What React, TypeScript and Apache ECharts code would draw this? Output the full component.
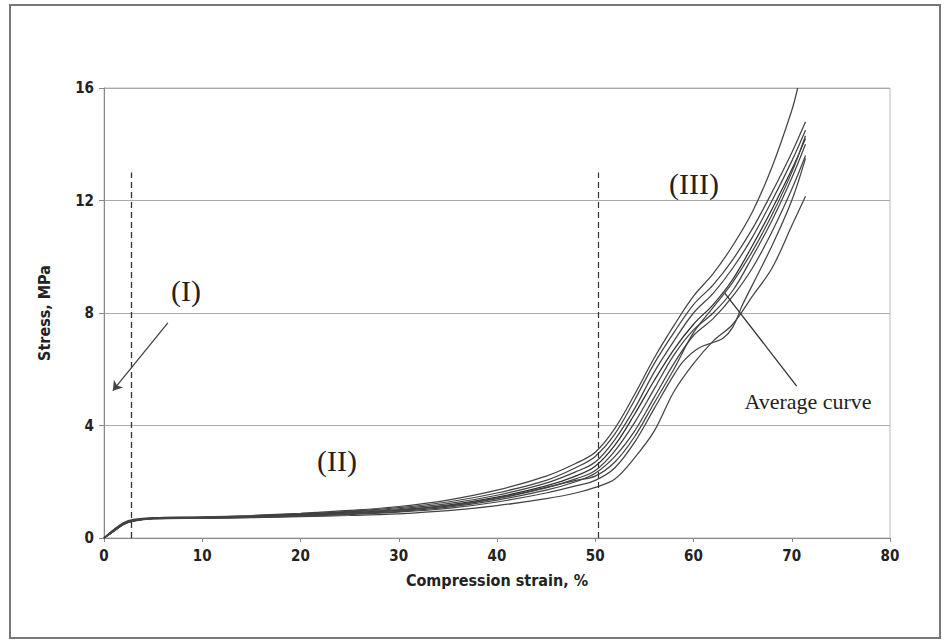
import React, { useEffect, useRef } from "react";
import * as echarts from "echarts";

// Strain grid (%) shared by most specimen curves
const strainGrid = [0, 1, 2, 3, 5, 10, 15, 20, 25, 30, 35, 40, 45, 48, 50, 52, 54, 56, 58, 60, 62, 64, 66, 68, 70, 71.4];

// Stress (MPa) for each specimen
const curveA_strain = [0, 1, 2, 3, 5, 10, 15, 20, 25, 30, 35, 40, 45, 48, 50, 52, 54, 56, 58, 60, 62, 64, 66, 68, 70, 70.6];
const curveA = [0, 0.28, 0.52, 0.64, 0.72, 0.75, 0.8, 0.88, 0.98, 1.12, 1.35, 1.7, 2.2, 2.65, 3.05, 3.9, 5.1, 6.4, 7.55, 8.6, 9.4, 10.4, 11.6, 13.2, 15.2, 16];
const curveB1 = [0, 0.3, 0.55, 0.66, 0.72, 0.74, 0.79, 0.86, 0.95, 1.08, 1.28, 1.6, 2.05, 2.5, 2.9, 3.7, 4.9, 6.2, 7.3, 8.3, 9.0, 9.9, 11.0, 12.3, 13.7, 14.8];
const curveB2 = [0, 0.27, 0.53, 0.64, 0.71, 0.73, 0.77, 0.84, 0.93, 1.04, 1.22, 1.52, 1.95, 2.35, 2.7, 3.5, 4.6, 5.9, 7.0, 8.0, 8.7, 9.6, 10.7, 12.0, 13.4, 14.5];
const curveAvg = [0, 0.26, 0.5, 0.63, 0.7, 0.72, 0.76, 0.82, 0.9, 1.0, 1.17, 1.45, 1.85, 2.2, 2.55, 3.3, 4.4, 5.6, 6.7, 7.6, 8.3, 9.2, 10.4, 11.7, 13.1, 14.2];
const curveB4 = [0, 0.25, 0.5, 0.62, 0.7, 0.72, 0.75, 0.8, 0.88, 0.98, 1.13, 1.4, 1.78, 2.1, 2.4, 3.1, 4.1, 5.3, 6.5, 7.4, 8.0, 8.8, 10.0, 11.3, 12.8, 14.0];
const curveB5 = [0, 0.24, 0.48, 0.61, 0.69, 0.71, 0.74, 0.79, 0.86, 0.95, 1.1, 1.35, 1.7, 2.0, 2.3, 2.9, 3.8, 5.0, 6.2, 7.2, 7.8, 8.6, 9.6, 10.9, 12.4, 13.6];
const curveB6 = [0, 0.26, 0.5, 0.62, 0.7, 0.72, 0.76, 0.81, 0.89, 0.99, 1.15, 1.42, 1.8, 2.05, 2.2, 2.7, 3.6, 4.8, 6.0, 7.3, 8.2, 9.1, 10.2, 11.5, 13.0, 14.3];
const curveK_strain = [0, 1, 2, 3, 5, 10, 15, 20, 25, 30, 35, 40, 45, 48, 50, 52, 54, 56, 58, 59, 60.5, 62, 63, 64, 65, 66, 68, 70, 71.4];
const curveK = [0, 0.25, 0.49, 0.61, 0.69, 0.71, 0.73, 0.78, 0.84, 0.92, 1.05, 1.28, 1.6, 1.85, 2.05, 2.5, 3.4, 4.6, 5.8, 6.3, 6.75, 6.95, 7.1, 7.5, 8.3, 9.0, 10.4, 12.0, 13.5];
const curveL = [0, 0.24, 0.48, 0.6, 0.68, 0.7, 0.72, 0.76, 0.8, 0.86, 0.97, 1.15, 1.4, 1.6, 1.8, 2.1, 2.85, 3.8, 5.2, 6.2, 7.0, 7.6, 8.6, 9.6, 11.1, 12.15];

const xTicks = [0, 10, 20, 30, 40, 50, 60, 70, 80];
const yTicks = [0, 4, 8, 12, 16];

// Region boundaries (strain %, stress MPa)
const boundaryI = [[2.75, 0], [2.75, 13]];
const boundaryII = [[50.3, 0], [50.3, 13]];
const arrowI = [[6.5, 7.65], [0.9, 5.24]];
const avgPointer = [[63.2, 8.7], [70.5, 5.4]];

const zip = (xs: number[], ys: number[]) => ys.map((y, i) => [xs[i], y]);

const specimens: [number[], number[]][] = [
  [curveA_strain, curveA],
  [strainGrid, curveB1],
  [strainGrid, curveB2],
  [strainGrid, curveAvg],
  [strainGrid, curveB4],
  [strainGrid, curveB5],
  [strainGrid, curveB6],
  [curveK_strain, curveK],
  [strainGrid, curveL],
];

const narrow = "'Liberation Sans Narrow', 'DejaVu Sans Condensed', 'Arial Narrow', sans-serif";
const serif = "'Liberation Serif', 'Times New Roman', serif";

export default function App() {
  const ref = useRef<HTMLDivElement>(null);
  useEffect(() => {
    if (!ref.current) return;
    const chart = echarts.init(ref.current, null, { renderer: "svg" });
    const series: any[] = specimens.map(([xs, ys], i) => ({
      type: "line",
      data: zip(xs, ys),
      smooth: 0.35,
      showSymbol: false,
      symbol: "none",
      silent: true,
      lineStyle: { color: i === 3 ? "#2e2e2e" : "#444", width: 1.25 },
      z: 3,
    }));
    series.push({
      type: "line",
      data: [],
      silent: true,
      markLine: {
        silent: true,
        symbol: ["none", "none"],
        label: { show: false },
        animation: false,
        data: [
          [{ coord: boundaryI[0], lineStyle: { type: [6, 4], color: "#333", width: 1.3 } }, { coord: boundaryI[1] }],
          [{ coord: boundaryII[0], lineStyle: { type: [6, 4], color: "#333", width: 1.2 } }, { coord: boundaryII[1] }],
          [{ coord: avgPointer[0], lineStyle: { type: "solid", color: "#333", width: 1.3 } }, { coord: avgPointer[1] }],
        ],
      },
    });
    series.push({
      type: "line",
      data: [],
      silent: true,
      markLine: {
        silent: true,
        symbol: ["none", "arrow"],
        symbolSize: 9,
        label: { show: false },
        animation: false,
        data: [[{ coord: arrowI[0], lineStyle: { type: "solid", color: "#444", width: 1.3 } }, { coord: arrowI[1] }]],
      },
    });

    chart.setOption({
      animation: false,
      backgroundColor: "#fff",
      grid: { left: 104, right: 56, top: 88, bottom: 106, show: true, borderColor: "#bbb", borderWidth: 1 },
      xAxis: {
        type: "value",
        min: xTicks[0],
        max: xTicks[xTicks.length - 1],
        interval: 10,
        name: "Compression strain, %",
        nameLocation: "middle",
        nameGap: 34,
        nameTextStyle: { fontFamily: narrow, fontWeight: "bold", fontSize: 16, color: "#222" },
        axisLine: { show: true, lineStyle: { color: "#888", width: 1 } },
        axisTick: { show: true, length: 4, lineStyle: { color: "#888" } },
        axisLabel: { fontFamily: narrow, fontWeight: "bold", fontSize: 15, color: "#222", margin: 10 },
        splitLine: { show: false },
      },
      yAxis: {
        type: "value",
        min: yTicks[0],
        max: yTicks[yTicks.length - 1],
        interval: 4,
        name: "Stress, MPa",
        nameLocation: "middle",
        nameGap: 52,
        nameTextStyle: { fontFamily: narrow, fontWeight: "bold", fontSize: 16, color: "#222" },
        axisLine: { show: true, lineStyle: { color: "#888", width: 1 } },
        axisTick: { show: true, length: 5, lineStyle: { color: "#888" } },
        axisLabel: { fontFamily: narrow, fontWeight: "bold", fontSize: 15, color: "#222", margin: 10 },
        splitLine: { show: true, lineStyle: { color: "#aaa", width: 1 } },
      },
      graphic: [
        { type: "rect", shape: { x: 10, y: 5, width: 930, height: 633 }, style: { fill: "none", stroke: "#777", lineWidth: 2 }, silent: true },
        { type: "text", x: 186, y: 290, style: { text: "(I)", font: `30px ${serif}`, fill: "#222", align: "center", verticalAlign: "middle" } },
        { type: "text", x: 337, y: 460, style: { text: "(II)", font: `30px ${serif}`, fill: "#222", align: "center", verticalAlign: "middle" } },
        { type: "text", x: 694, y: 183, style: { text: "(III)", font: `30px ${serif}`, fill: "#222", align: "center", verticalAlign: "middle" } },
        { type: "text", x: 808, y: 401, style: { text: "Average curve", font: `22px ${serif}`, fill: "#222", align: "center", verticalAlign: "middle" } },
      ],
      series,
    });
    return () => chart.dispose();
  }, []);
  return <div ref={ref} style={{ position: "fixed", left: 0, top: 0, width: 946, height: 644 }} />;
}
